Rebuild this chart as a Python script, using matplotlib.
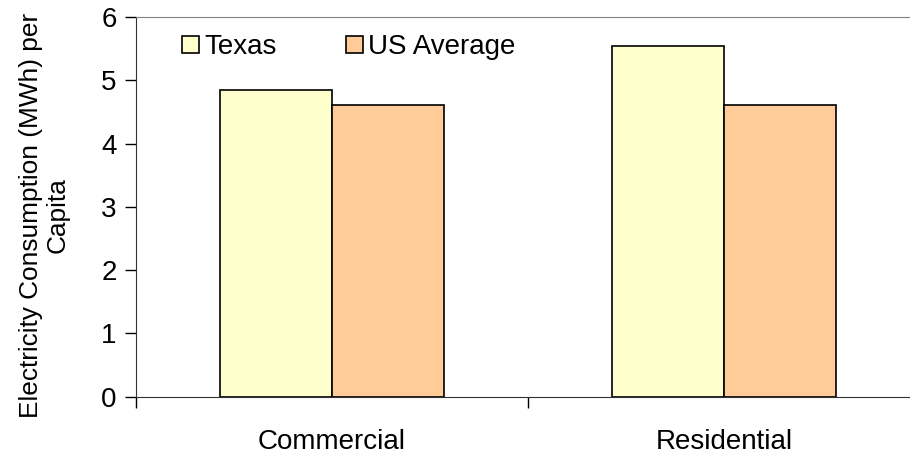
import numpy as np
import matplotlib.pyplot as plt

plt.rcParams['font.family'] = ['Liberation Sans', 'DejaVu Sans']

sectors = ['Commercial', 'Residential']
texas = [4.84, 5.54]
us_avg = [4.61, 4.61]

fig = plt.figure(figsize=(9.1, 4.53), dpi=100)
ax = fig.add_axes([0.1495, 0.1243, 0.8615, 0.8382])

x = np.arange(len(sectors))
w = 0.286
ax.bar(x - w / 2, texas, w, color='#FFFFCC', edgecolor='black', linewidth=1.2, label='Texas')
ax.bar(x + w / 2, us_avg, w, color='#FFCC99', edgecolor='black', linewidth=1.2, label='US Average')

ax.set_xlim(-0.5, 1.5)
ax.set_ylim(0, 6)
ax.set_yticks(range(7))
ax.tick_params(axis='y', labelsize=20, length=8, width=1, direction='out', pad=6)

# category labels sit between tick marks at the boundaries
ax.set_xticks([-0.5, 0.5, 1.5])
ax.set_xticklabels([])
ax.set_xticks(x, minor=True)
ax.set_xticklabels(sectors, minor=True, fontsize=20)
ax.tick_params(axis='x', which='major', length=8, width=1, direction='out')
ax.tick_params(axis='x', which='minor', length=0, pad=23)

ax.spines['top'].set_color('#808080')
ax.spines['right'].set_visible(False)
ax.spines['left'].set_color('#333333')
ax.spines['bottom'].set_color('#333333')

ax.set_ylabel('Electricity Consumption (MWh) per\nCapita', fontsize=18.9, linespacing=1.12)
ax.yaxis.set_label_coords(-0.085, 0.478)

ax.legend(loc='upper left', bbox_to_anchor=(0.027, 1.02), ncol=2, frameon=False,
          fontsize=20, handlelength=0.6, handleheight=0.6, handletextpad=0.2,
          columnspacing=2.5)

fig.savefig('out.png', dpi=100)
